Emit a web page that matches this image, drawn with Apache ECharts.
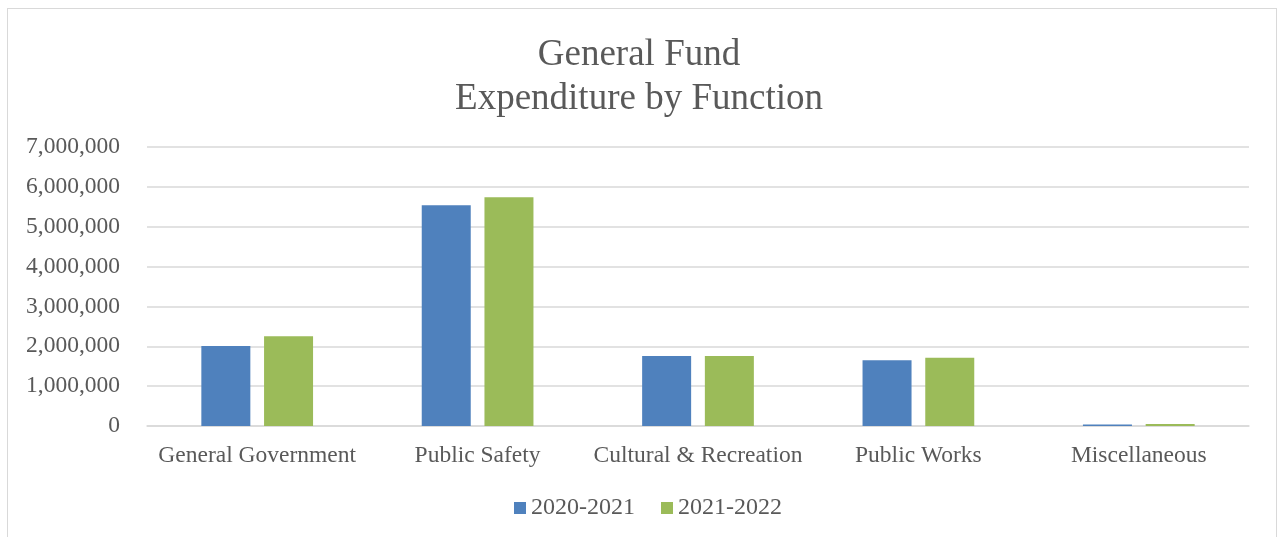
<!DOCTYPE html>
<html>
<head>
<meta charset="utf-8">
<script src="https://cdn.jsdelivr.net/npm/echarts@6/dist/echarts.min.js"></script>
<style>
  html, body { margin: 0; padding: 0; background: #fff; }
  #frame { position: absolute; left: 7px; top: 8px; width: 1270px; height: 540px; border: 1px solid #d9d9d9; box-sizing: border-box; }
  #chart { position: absolute; left: 0; top: 0; width: 1278px; height: 537px; }
</style>
</head>
<body>
<div id="frame"></div>
<div id="chart"></div>
<script>
const categories = ['General Government', 'Public Safety', 'Cultural & Recreation', 'Public Works', 'Miscellaneous'];
const seriesNames = ['2020-2021', '2021-2022'];
const fy2021 = [2010000, 5540000, 1755000, 1650000, 40000];
const fy2022 = [2250000, 5740000, 1755000, 1710000, 50000];

const serif = '"Liberation Serif", "Times New Roman", serif';
const textColor = '#595959';

const chart = echarts.init(document.getElementById('chart'));
chart.setOption({
  animation: false,
  title: {
    text: 'General Fund\nExpenditure by Function',
    left: 'center',
    top: 28,
    textStyle: { fontFamily: serif, fontSize: 37, fontWeight: 'normal', color: textColor, lineHeight: 44 }
  },
  legend: {
    data: seriesNames,
    bottom: 12,
    left: 509,
    itemWidth: 12,
    itemHeight: 12,
    itemGap: 26,
    icon: 'rect',
    textStyle: { fontFamily: serif, fontSize: 24, color: textColor }
  },
  grid: { left: 147, right: 29, top: 147, bottom: 111 },
  xAxis: {
    type: 'category',
    data: categories,
    axisLine: { lineStyle: { color: '#d9d9d9', width: 1.5 } },
    axisTick: { show: false },
    axisLabel: { interval: 0, fontFamily: serif, fontSize: 23.5, color: textColor, margin: 18 }
  },
  yAxis: {
    type: 'value',
    min: 0,
    max: 7000000,
    interval: 1000000,
    axisLine: { show: false },
    axisTick: { show: false },
    splitLine: { lineStyle: { color: '#d9d9d9', width: 1.5 } },
    axisLabel: {
      fontFamily: serif, fontSize: 23.5, color: textColor, margin: 27,
      padding: [4, 0, 0, 0],
      formatter: v => v.toLocaleString('en-US')
    }
  },
  series: [
    {
      name: seriesNames[0], type: 'bar', data: fy2021,
      barWidth: 49, barGap: '28%',
      itemStyle: { color: '#4f81bd' }
    },
    {
      name: seriesNames[1], type: 'bar', data: fy2022,
      barWidth: 49,
      itemStyle: { color: '#9bbb59' }
    }
  ]
});
</script>
</body>
</html>
